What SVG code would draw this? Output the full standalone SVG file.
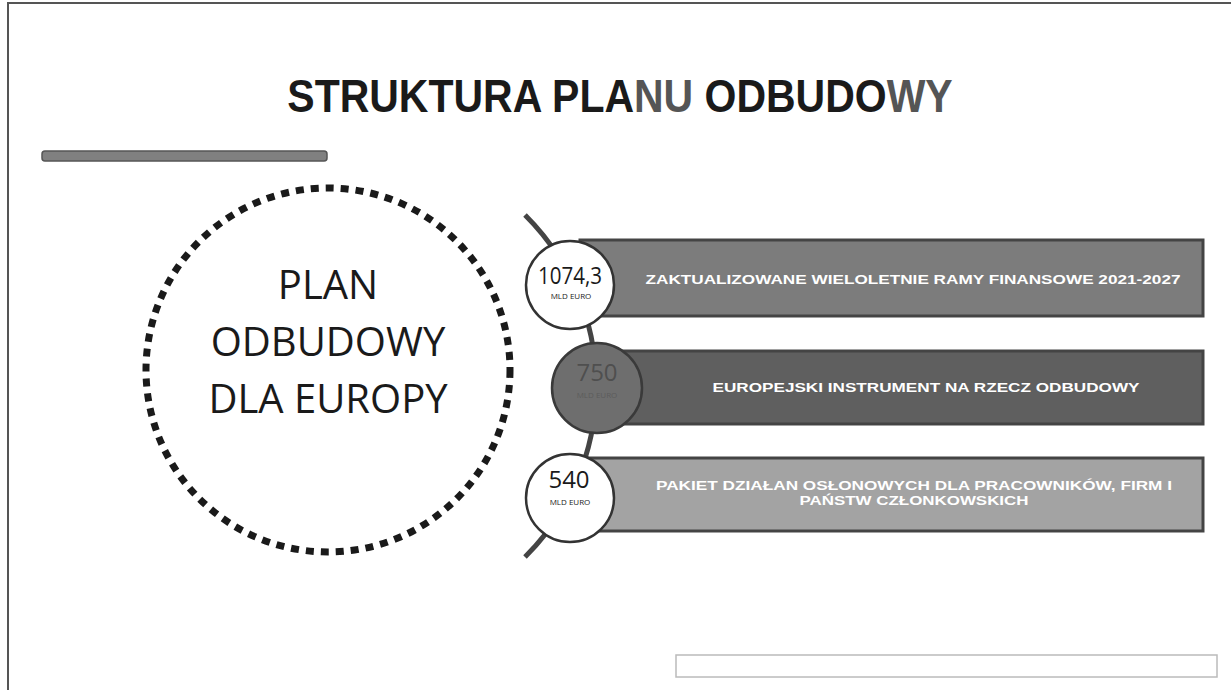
<svg xmlns="http://www.w3.org/2000/svg" width="1231" height="690" viewBox="0 0 1231 690">
<style>
.title{font-family:"Liberation Sans",Arial,sans-serif;font-weight:bold;font-size:47px;fill:#1a1a1a}
.big{font-family:"Open Sans","Noto Sans",sans-serif;font-size:40px;fill:#1a1a1a;text-anchor:middle}
.bar{stroke:#444;stroke-width:3}
.btxt{font-family:"Liberation Sans",Arial,sans-serif;font-weight:bold;font-size:13px;fill:#fff;text-anchor:middle}
.num{font-family:"Open Sans","Noto Sans",sans-serif;font-size:24px;fill:#1a1a1a;text-anchor:middle}
.unit{font-family:"Open Sans","Noto Sans",sans-serif;font-size:8px;fill:#1a1a1a;text-anchor:middle}
</style>
<rect x="0" y="0" width="1231" height="690" fill="#fff"/>
<path d="M8,690 V3 H1231" fill="none" stroke="#555" stroke-width="2"/>
<text class="title" transform="translate(620,112) scale(0.872,1)" x="0" y="0" text-anchor="middle">STRUKTURA PLA<tspan fill="#555">NU</tspan> ODBUDO<tspan fill="#555">WY</tspan></text>
<rect x="42" y="151" width="285" height="10" rx="3" fill="#808080" stroke="#555" stroke-width="1.5"/>
<rect x="676" y="655" width="541" height="22" fill="none" stroke="#bbb" stroke-width="1.5"/>
<g id="plan">
<circle cx="328" cy="370" r="182" fill="none" stroke="#1a1a1a" stroke-width="7" stroke-dasharray="8 7"/>
<text class="big" x="328" y="299">PLAN</text>
<text class="big" x="328" y="356">ODBUDOWY</text>
<text class="big" x="328" y="413">DLA EUROPY</text>
</g>
<g id="connectors">
<path d="M525,215 A241,241 0 0 1 525,557" fill="none" stroke="#444" stroke-width="5"/>
</g>
<g id="bar1">
<rect class="bar" x="580" y="240" width="623" height="76" fill="#7c7c7c"/>
<text class="btxt" x="913" y="284" textLength="535" lengthAdjust="spacingAndGlyphs">ZAKTUALIZOWANE WIELOLETNIE RAMY FINANSOWE 2021-2027</text>
</g>
<g id="bar2">
<rect class="bar" x="600" y="351" width="603" height="73" fill="#5f5f5f"/>
<text class="btxt" x="926" y="392" textLength="427" lengthAdjust="spacingAndGlyphs">EUROPEJSKI INSTRUMENT NA RZECZ ODBUDOWY</text>
</g>
<g id="bar3">
<rect class="bar" x="580" y="458" width="623" height="73" fill="#a3a3a3"/>
<text class="btxt" x="914" y="490" textLength="516" lengthAdjust="spacingAndGlyphs">PAKIET DZIAŁAN OSŁONOWYCH DLA PRACOWNIKÓW, FIRM I</text>
<text class="btxt" x="914" y="505" textLength="229" lengthAdjust="spacingAndGlyphs">PAŃSTW CZŁONKOWSKICH</text>
</g>
<g id="c1">
<circle cx="570" cy="285" r="44" fill="#fff" stroke="#333" stroke-width="2.5"/>
<text class="num" x="570" y="284" textLength="64" lengthAdjust="spacingAndGlyphs">1074,3</text>
<text class="unit" x="571" y="299">MLD EURO</text>
</g>
<g id="c2">
<circle cx="597" cy="388" r="45" fill="#6e6e6e" stroke="#3a3a3a" stroke-width="2.5"/>
<text class="num" x="597" y="381" style="fill:#4f4f4f">750</text>
<text class="unit" x="597" y="398" style="fill:#5c5c5c">MLD EURO</text>
</g>
<g id="c3">
<circle cx="570" cy="498" r="44" fill="#fff" stroke="#333" stroke-width="2.5"/>
<text class="num" x="569" y="488">540</text>
<text class="unit" x="570" y="505">MLD EURO</text>
</g>
</svg>
